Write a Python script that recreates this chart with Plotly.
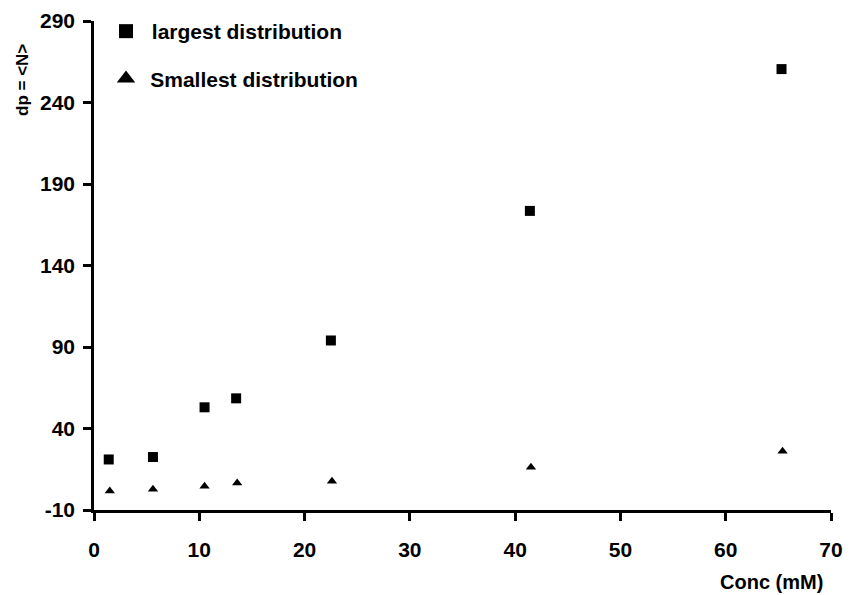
import plotly.graph_objects as go

# Concentration (mM) and mean degree of polymerisation for both distributions
conc_largest = [1.4, 5.6, 10.5, 13.5, 22.5, 41.4, 65.3]
dp_largest = [21, 22.5, 53, 58.5, 94, 173.5, 260.5]

conc_smallest = [1.5, 5.6, 10.5, 13.6, 22.6, 41.5, 65.4]
dp_smallest = [1.6, 2.8, 4.6, 6.5, 7.7, 16.3, 26.1]

x_ticks = [0, 10, 20, 30, 40, 50, 60, 70]
y_ticks = [-10, 40, 90, 140, 190, 240, 290]

font_family = "Liberation Sans, Arial, sans-serif"

fig = go.Figure()
fig.add_trace(go.Scatter(
    x=conc_largest, y=dp_largest, mode="markers", showlegend=False,
    marker=dict(symbol="square", size=10, color="black"),
))
fig.add_trace(go.Scatter(
    x=conc_smallest, y=dp_smallest, mode="markers", showlegend=False,
    marker=dict(symbol="triangle-up", size=9, color="black"),
))
# legend keys use larger symbols than the data markers
fig.add_trace(go.Scatter(
    x=[None], y=[None], mode="markers", legendgroup="a",
    name="<b>\u00a0largest distribution</b>",
    marker=dict(symbol="square", size=14, color="black"),
))
fig.add_trace(go.Scatter(
    x=[None], y=[None], mode="markers", legendgroup="b",
    name="<b>\u2009Smallest distribution</b>",
    marker=dict(symbol="triangle-up", size=17, color="black"),
))

axis_common = dict(
    showline=True, linecolor="black", linewidth=2.5,
    ticks="outside", ticklen=8, tickwidth=2.5, tickcolor="black",
    showgrid=False, zeroline=False, automargin=False,
    tickfont=dict(family=font_family, size=21, color="black"),
)

fig.update_xaxes(range=[0, 70], tickvals=x_ticks,
                 ticktext=[f"<b>{v}</b>" for v in x_ticks],
                 ticklabelstandoff=11, **axis_common)
fig.update_yaxes(range=[-10, 290], tickvals=y_ticks,
                 ticktext=[f"<b>{v}</b>" for v in y_ticks],
                 ticklabelstandoff=4, **axis_common)

W, H = 853, 595
l, r, t, b = 94, 22, 21, 85
pw, ph = W - l - r, H - t - b

fig.update_layout(
    width=W, height=H,
    margin=dict(l=l, r=r, t=t, b=b, autoexpand=False),
    plot_bgcolor="white", paper_bgcolor="white",
    showlegend=True,
    legend=dict(
        x=(106 - l) / pw, y=1 + 10 / ph, xanchor="left", yanchor="top",
        bgcolor="rgba(0,0,0,0)", tracegroupgap=17,
        font=dict(family=font_family, size=21, color="black"),
        itemsizing="trace",
    ),
    annotations=[
        dict(text="<b>Conc (mM)</b>", xref="paper", yref="paper",
             x=(825 - l) / pw, y=-(582 - (H - b)) / ph,
             xanchor="right", yanchor="middle", showarrow=False,
             font=dict(family=font_family, size=20, color="black")),
        dict(text="<b>dp = &lt;N&gt;</b>", textangle=-90, showarrow=False,
             xref="paper", yref="paper",
             x=(22 - l) / pw, y=1 - (80 - t) / ph,
             xanchor="center", yanchor="middle",
             font=dict(family=font_family, size=17, color="black")),
    ],
)

fig.write_html("out.html")
